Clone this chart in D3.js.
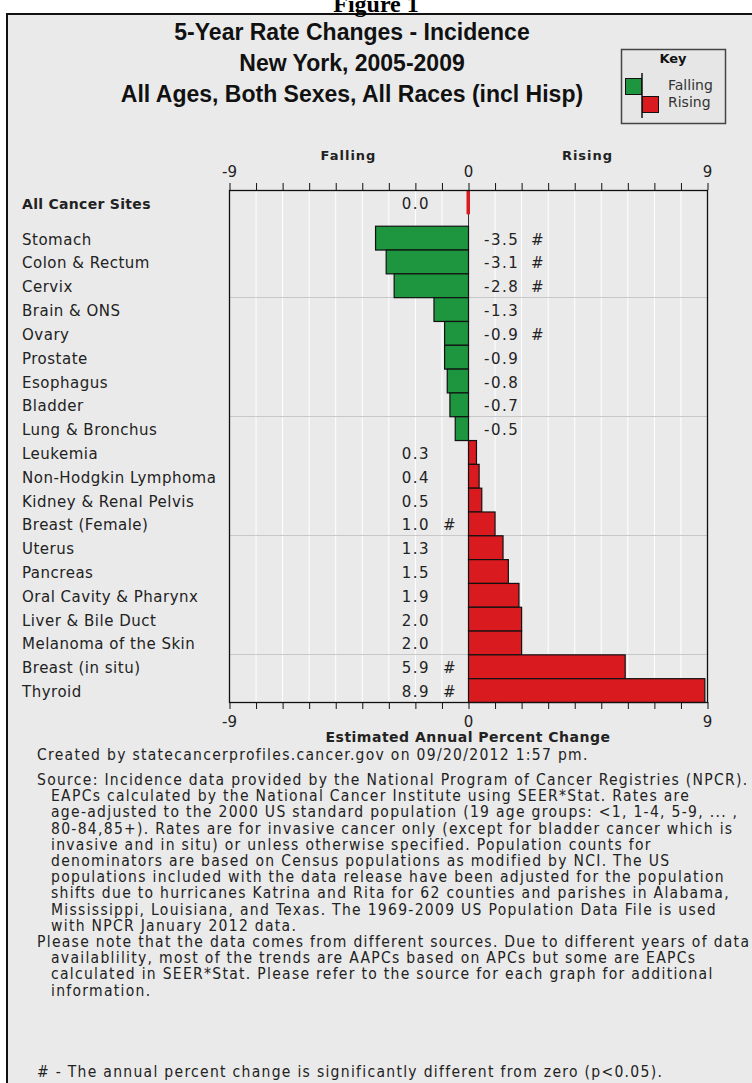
<!DOCTYPE html>
<html><head><meta charset="utf-8">
<script src="https://cdn.jsdelivr.net/npm/d3@7"></script>
<style>body{margin:0;background:#fff;overflow:hidden}svg{display:block}</style>
</head><body><svg id="c" width="752" height="1083"></svg>
<script>
// ---- data ----
const categories = ["All Cancer Sites","Stomach","Colon & Rectum","Cervix","Brain & ONS","Ovary","Prostate","Esophagus","Bladder","Lung & Bronchus","Leukemia","Non-Hodgkin Lymphoma","Kidney & Renal Pelvis","Breast (Female)","Uterus","Pancreas","Oral Cavity & Pharynx","Liver & Bile Duct","Melanoma of the Skin","Breast (in situ)","Thyroid"];
const values = [0.0,-3.5,-3.1,-2.8,-1.3,-0.9,-0.9,-0.8,-0.7,-0.5,0.3,0.4,0.5,1.0,1.3,1.5,1.9,2.0,2.0,5.9,8.9];
const significant = [false,true,true,true,false,true,false,false,false,false,false,false,false,true,false,false,false,false,false,true,true];
const xTicks = [-9,0,9];
const titleLines = ["5-Year Rate Changes - Incidence","New York, 2005-2009","All Ages, Both Sexes, All Races (incl Hisp)"];
const keyLabels = ["Falling","Rising"];
const halfLabels = ["Falling","Rising"];
const xAxisTitle = "Estimated Annual Percent Change";
const createdLine = "Created by statecancerprofiles.cancer.gov on 09/20/2012 1:57 pm.";
const sourceLines = [
 ["Source: Incidence data provided by the National Program of Cancer Registries (NPCR).",0],
 ["EAPCs calculated by the National Cancer Institute using SEER*Stat. Rates are",1],
 ["age-adjusted to the 2000 US standard population (19 age groups: <1, 1-4, 5-9, ... ,",1],
 ["80-84,85+). Rates are for invasive cancer only (except for bladder cancer which is",1],
 ["invasive and in situ) or unless otherwise specified. Population counts for",1],
 ["denominators are based on Census populations as modified by NCI. The US",1],
 ["populations included with the data release have been adjusted for the population",1],
 ["shifts due to hurricanes Katrina and Rita for 62 counties and parishes in Alabama,",1],
 ["Mississippi, Louisiana, and Texas. The 1969-2009 US Population Data File is used",1],
 ["with NPCR January 2012 data.",1],
 ["Please note that the data comes from different sources. Due to different years of data",0],
 ["availablility, most of the trends are AAPCs based on APCs but some are EAPCs",1],
 ["calculated in SEER*Stat. Please refer to the source for each graph for additional",1],
 ["information.",1]
];
const footnote = "# - The annual percent change is significantly different from zero (p<0.05).";

// ---- drawing ----
const svg = d3.select("#c");
const BG = "#eaeaea", GREEN = "#1e953f", RED = "#d91a1f";
const sans = "'DejaVu Sans', sans-serif";

svg.append("rect").attr("x",0).attr("y",0).attr("width",752).attr("height",1083).attr("fill","#fff");
svg.append("rect").attr("x",7).attr("y",14).attr("width",800).attr("height",1100)
  .attr("fill",BG).attr("stroke","#111").attr("stroke-width",2);
svg.append("text").attr("x",376).attr("y",12).attr("text-anchor","middle")
  .attr("font-family","'Liberation Serif', serif").attr("font-weight","bold").attr("font-size",24)
  .text("Figure 1");

svg.append("g").selectAll("text").data(titleLines).join("text")
  .attr("x",352).attr("y",(d,i)=>40+i*31).attr("text-anchor","middle")
  .attr("font-family","'Liberation Sans', Arial, sans-serif").attr("font-weight","bold")
  .attr("font-size",23).attr("fill","#111").text(d=>d);

const key = svg.append("g");
key.append("rect").attr("x",621.5).attr("y",49.5).attr("width",104).attr("height",74)
  .attr("fill","#e6e6e6").attr("stroke","#444").attr("stroke-width",1.5);
key.append("text").attr("x",673).attr("y",63).attr("text-anchor","middle")
  .attr("font-family",sans).attr("font-weight","bold").attr("font-size",13).attr("fill","#111").text("Key");
key.append("rect").attr("x",625.5).attr("y",78.5).attr("width",16).attr("height",16).attr("fill",GREEN).attr("stroke","#111");
key.append("rect").attr("x",642.5).attr("y",96.5).attr("width",16).attr("height",16).attr("fill",RED).attr("stroke","#111");
key.append("line").attr("x1",642).attr("x2",642).attr("y1",73).attr("y2",118).attr("stroke","#111").attr("stroke-width",1.5);
key.selectAll("text.k").data(keyLabels).join("text").attr("class","k")
  .attr("x",668).attr("y",(d,i)=>90+i*17).attr("font-family",sans).attr("font-size",14).attr("fill","#333").text(d=>d);

const x = d3.scaleLinear().domain([-9,9]).range([229,707]);
const y = d3.scaleLinear().domain([0,21.5]).range([190,702]);
const rowTop = i => i===0 ? 0 : i+0.5;
const rowMid = i => rowTop(i)+0.5;

const plot = svg.append("g");
plot.selectAll("line.g").data(d3.range(-8,9)).join("line").attr("class","g")
  .attr("x1",d=>x(d)+0.5).attr("x2",d=>x(d)+0.5).attr("y1",y(0)).attr("y2",y(21.5))
  .attr("stroke","#fff").attr("stroke-width",1);
plot.selectAll("line.s").data([4.5,9.5,14.5,19.5]).join("line").attr("class","s")
  .attr("x1",x(-9)).attr("x2",x(9)).attr("y1",d=>Math.round(y(d))+0.5).attr("y2",d=>Math.round(y(d))+0.5)
  .attr("stroke","#c8c8c8").attr("stroke-width",1);

const topAxis = d3.axisTop(x).tickValues(d3.range(-9,10)).tickSize(7).tickFormat("");
const botAxis = d3.axisBottom(x).tickValues(d3.range(-9,10)).tickSize(7).tickFormat("");
const gT = plot.append("g").attr("transform",`translate(0.5,${y(0)})`).call(topAxis);
const gB = plot.append("g").attr("transform",`translate(0.5,${y(21.5)})`).call(botAxis);
[gT,gB].forEach(g=>{g.select(".domain").remove(); g.selectAll("line").attr("stroke","#111");});
plot.append("line").attr("x1",x(0)+0.5).attr("x2",x(0)+0.5).attr("y1",y(0)).attr("y2",y(21.5)).attr("stroke","#333");

plot.selectAll("rect.b").data(values).join("rect").attr("class","b")
  .attr("x",(d,i)=> d===0 ? x(0)-1.5 : Math.min(x(0),x(d))+0.5)
  .attr("width",d=> d===0 ? 3.5 : Math.abs(x(d)-x(0)))
  .attr("y",(d,i)=>y(rowTop(i))+0.5)
  .attr("height",(d,i)=>y(rowTop(i)+1)-y(rowTop(i)))
  .attr("fill",d=> d<0 ? GREEN : RED)
  .attr("stroke",d=> d===0 ? "none" : "#111").attr("stroke-width",1.2);

plot.append("rect").attr("x",x(-9)+0.5).attr("y",y(0)+0.5).attr("width",x(9)-x(-9)).attr("height",y(21.5)-y(0))
  .attr("fill","none").attr("stroke","#111").attr("stroke-width",1.3);

const tickText = d => d<0 ? "-"+Math.abs(d) : String(d);
const tl = svg.append("g").attr("font-family",sans).attr("font-size",15).attr("fill","#222").attr("text-anchor","middle");
tl.selectAll("text.t").data(xTicks).join("text").attr("class","t").attr("x",d=>x(d)+0.5).attr("y",177).text(tickText);
tl.selectAll("text.bt").data(xTicks).join("text").attr("class","bt").attr("x",d=>x(d)+0.5).attr("y",727).text(tickText);

svg.selectAll("text.h").data(halfLabels).join("text").attr("class","h")
  .attr("x",(d,i)=> i===0 ? x(-4.5) : x(4.5)).attr("y",160).attr("text-anchor","middle")
  .attr("font-family",sans).attr("font-weight","bold").attr("font-size",13).attr("letter-spacing",1)
  .attr("fill","#222").text(d=>d);

svg.selectAll("text.r").data(categories).join("text").attr("class","r")
  .attr("x",22).attr("y",(d,i)=>y(rowMid(i))+7)
  .attr("font-family",sans).attr("font-size",(d,i)=>i===0?14:15).attr("font-weight",(d,i)=>i===0?"bold":"normal")
  .attr("letter-spacing",(d,i)=>i===0?0.3:0.5).attr("fill","#222").text(d=>d);

const fmt = v => d3.format(".1f")(v).replace("\u2212","-");
const vl = svg.append("g").attr("font-family",sans).attr("font-size",15).attr("fill","#222").attr("letter-spacing",1.5);
values.forEach((v,i)=>{
  const yy = y(rowMid(i))+7;
  if (v<0){
    vl.append("text").attr("x",x(0)+16).attr("y",yy).text(fmt(v));
    if(significant[i]) vl.append("text").attr("x",x(0)+63).attr("y",yy).text("#");
  } else {
    vl.append("text").attr("x",x(0)-38).attr("y",yy).attr("text-anchor","end").text(fmt(v));
    if(significant[i]) vl.append("text").attr("x",x(0)-25).attr("y",yy).text("#");
  }
});

svg.append("text").attr("x",x(0)).attr("y",742).attr("text-anchor","middle")
  .attr("font-family",sans).attr("font-weight","bold").attr("font-size",14).attr("letter-spacing",0.5)
  .attr("fill","#222").text(xAxisTitle);

const foot = svg.append("g").attr("font-family","'DejaVu Sans Condensed', 'DejaVu Sans', sans-serif")
  .attr("font-size",15.5).attr("letter-spacing",1.3).attr("fill","#222");
foot.append("text").attr("x",37).attr("y",760).text(createdLine);
foot.selectAll("text.src").data(sourceLines).join("text").attr("class","src")
  .attr("x",d=>d[1]?51:37).attr("y",(d,i)=>785+i*16.2).text(d=>d[0]);
foot.append("text").attr("x",37).attr("y",1077).text(footnote);
</script></body></html>
